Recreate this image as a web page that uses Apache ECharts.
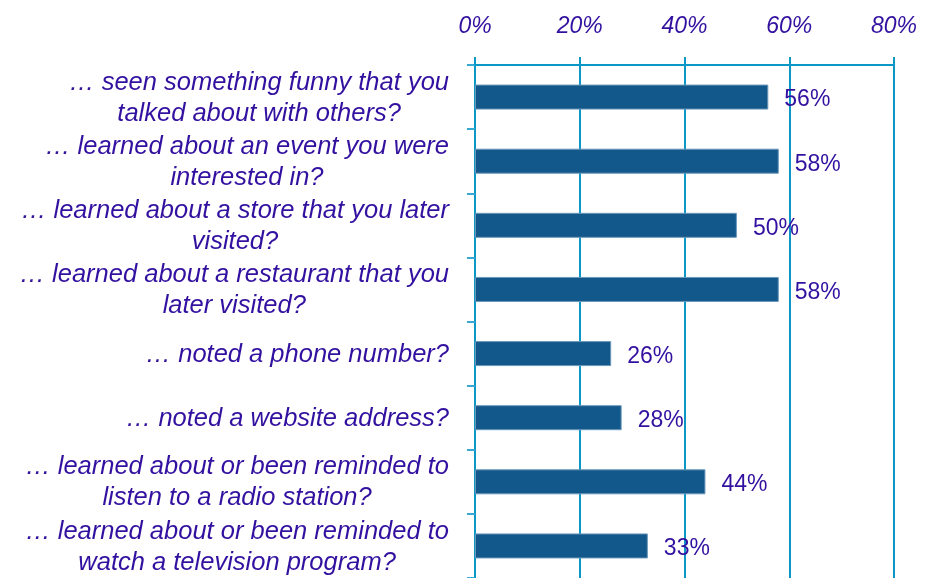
<!DOCTYPE html>
<html>
<head>
<meta charset="utf-8">
<script src="https://cdn.jsdelivr.net/npm/echarts@6/dist/echarts.min.js"></script>
<style>
  html, body { margin: 0; padding: 0; background: #ffffff; }
  #chart { width: 934px; height: 578px; }
</style>
</head>
<body>
<div id="chart"></div>
<script>
// Survey items (each line of a label is one entry), top to bottom
const categories = [
  ['… seen something funny that you', 'talked about with others?'],
  ['… learned about an event you were', 'interested in?'],
  ['… learned about a store that you later', 'visited?'],
  ['… learned about a restaurant that you', 'later visited?'],
  ['… noted a phone number?'],
  ['… noted a website address?'],
  ['… learned about or been reminded to', 'listen to a radio station?'],
  ['… learned about or been reminded to', 'watch a television program?']
];
// Share of respondents (%)
const values = [56, 58, 50, 58, 26, 28, 44, 33];
// Percentage axis ticks
const xTicks = [0, 20, 40, 60, 80];

const TEXT = '#3311a0';
const AXIS = '#0b98c6';
const BAR = '#13588a';
const FONT = '"Liberation Sans", Arial, sans-serif';

const chart = echarts.init(document.getElementById('chart'));

// Each line of a category label is centred within the right-aligned block
function richLabel(value) {
  return value.split('\n').map(line => '{t|' + line + '}').join('\n');
}

chart.setOption({
  animation: false,
  backgroundColor: '#ffffff',
  grid: { left: 475, right: 40, top: 65, height: 516, containLabel: false },
  xAxis: {
    type: 'value',
    position: 'top',
    min: xTicks[0],
    max: xTicks[xTicks.length - 1],
    interval: xTicks[1] - xTicks[0],
    axisLine: { show: true, lineStyle: { color: AXIS, width: 2 } },
    axisTick: { show: true, inside: false, length: 8, lineStyle: { color: AXIS, width: 2 } },
    splitLine: { show: true, lineStyle: { color: AXIS, width: 2 } },
    axisLabel: {
      formatter: '{value}%',
      color: TEXT,
      fontFamily: FONT,
      fontStyle: 'italic',
      fontSize: 23,
      margin: 27
    }
  },
  yAxis: {
    type: 'category',
    inverse: true,
    data: categories.map(c => c.join('\n')),
    axisLine: { show: true, lineStyle: { color: AXIS, width: 2 } },
    axisTick: { show: true, inside: false, length: 8, lineStyle: { color: '#38a9d2', width: 2 } },
    splitLine: { show: false },
    axisLabel: {
      color: TEXT,
      fontFamily: FONT,
      fontSize: 25.5,
      lineHeight: 31,
      align: 'right',
      margin: 26,
      formatter: richLabel,
      rich: {
        t: { fontStyle: 'italic', color: TEXT, fontFamily: FONT, fontSize: 25.5, lineHeight: 31, align: 'center', padding: [2, 0, 0, 0] }
      }
    }
  },
  series: [{
    type: 'bar',
    data: values,
    barWidth: 25,
    itemStyle: { color: BAR, borderColor: '#6a97ba', borderWidth: 1 },
    label: {
      show: true,
      position: 'right',
      distance: 16,
      offset: [0, 3],
      formatter: '{c}%',
      color: TEXT,
      fontFamily: FONT,
      fontSize: 23
    }
  }]
});
</script>
</body>
</html>
